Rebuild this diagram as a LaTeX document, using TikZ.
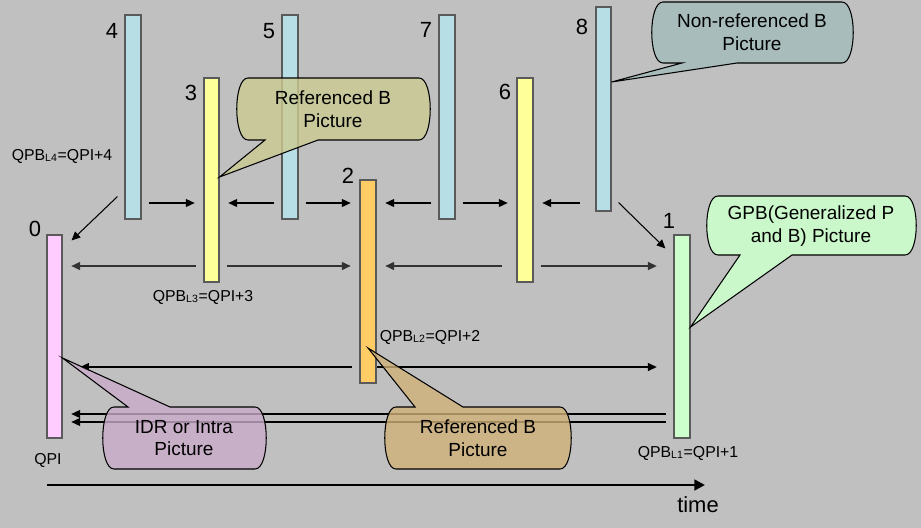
\documentclass[tikz,border=0pt]{standalone}
\usepackage{fontspec}
\setmainfont{Liberation Sans}
\usepackage{xcolor}
\usetikzlibrary{arrows.meta, positioning, calc, fit}
\definecolor{bggray}{RGB}{192,192,192}
\definecolor{barblue}{RGB}{183,222,228}
\definecolor{baryellow}{RGB}{255,255,153}
\definecolor{barorange}{RGB}{255,204,102}
\definecolor{bargreen}{RGB}{204,255,204}
\definecolor{barpink}{RGB}{255,204,255}
\definecolor{edgegray}{RGB}{90,90,90}
\definecolor{noteolive}{RGB}{203,203,146}
\definecolor{noteteal}{RGB}{162,187,187}
\definecolor{notegreen}{RGB}{204,255,204}
\definecolor{notemauve}{RGB}{202,171,202}
\definecolor{notetan}{RGB}{208,177,121}

\tikzset{
  bar/.style={draw=edgegray, line width=0.6pt, inner sep=0pt},
  num/.style={font=\fontsize{12.5}{14}\selectfont, inner sep=0pt},
  qplabel/.style={font=\fontsize{9}{11}\selectfont, inner sep=0pt},
  notetext/.style={font=\fontsize{10.8}{13}\selectfont, align=center, inner sep=0pt},
  bubble/.style={draw=black, line width=0.6pt, fill opacity=0.8},
  arr/.style={-{Triangle[length=5pt,width=4.5pt]}, line width=0.6pt, shorten <=4pt, shorten >=5pt}
}

\begin{document}
\begin{tikzpicture}[x=0.02cm, y=-0.02cm]
  % Canvas
  \useasboundingbox (0,0) rectangle (921,528);
  \fill[bggray] (0,0) rectangle (921,528);

  % Pictures (bars)
  \node[bar, fill=barpink,   fit={(47,235) (62,438)}]  (b0) {};
  \node[bar, fill=bargreen,  fit={(674,235) (690,438)}] (b1) {};
  \node[bar, fill=barorange, fit={(360,180) (376,383)}] (b2) {};
  \node[bar, fill=baryellow, fit={(204,78) (219,282)}]  (b3) {};
  \node[bar, fill=barblue,   fit={(125,15) (141,219)}]  (b4) {};
  \node[bar, fill=barblue,   fit={(282,15) (298,219)}]  (b5) {};
  \node[bar, fill=baryellow, fit={(517,78) (533,282)}]  (b6) {};
  \node[bar, fill=barblue,   fit={(439,15) (455,219)}]  (b7) {};
  \node[bar, fill=barblue,   fit={(596,7) (611,211)}]   (b8) {};

  % Picture numbers
  \node[num] (n0) at (35,229) {0};
  \node[num] (n1) at (669,221) {1};
  \node[num] (n2) at (348,176) {2};
  \node[num] (n3) at (191,93) {3};
  \node[num] (n4) at (112,31) {4};
  \node[num] (n5) at (269,31) {5};
  \node[num] (n6) at (505,92) {6};
  \node[num] (n7) at (426,30) {7};
  \node[num] (n8) at (582,27) {8};

  % Reference rows
  \coordinate (r1) at (0,203);
  \coordinate (r2) at (0,266);
  \coordinate (r3) at (0,367);
  \coordinate (r4a) at (0,414);
  \coordinate (r4b) at (0,422);

  % Level 4 references
  \draw[arr] (b4.east |- r1) -- (b3.west |- r1);
  \draw[arr] (b5.west |- r1) -- (b3.east |- r1);
  \draw[arr] (b5.east |- r1) -- (b2.west |- r1);
  \draw[arr] (b7.west |- r1) -- (b2.east |- r1);
  \draw[arr] (b7.east |- r1) -- (b6.west |- r1);
  \draw[arr, shorten <=9pt] (b8.west |- r1) -- (b6.east |- r1);
  \draw[arr, shorten <=0pt, shorten >=0pt] ($(b4.south west)+(-7,-23)$) -- ($(b0.north east)+(9,6)$);
  \draw[arr, shorten <=0pt, shorten >=0pt] ($(b8.south east)+(7,-9)$) -- ($(b1.north west)+(-8,14)$);

  % Level 3 references
  \draw[arr, draw=black!80, line width=0.75pt] (b3.west |- r2) -- (b0.east |- r2);
  \draw[arr, draw=black!80, line width=0.75pt] (b3.east |- r2) -- (b2.west |- r2);
  \draw[arr, draw=black!80, line width=0.75pt, shorten <=8.5pt] (b6.west |- r2) -- (b2.east |- r2);
  \draw[arr, draw=black!80, line width=0.75pt, shorten >=9.5pt] (b6.east |- r2) -- (b1.west |- r2);

  % Level 2 references
  \draw[arr, shorten >=10pt] (b2.west |- r3) -- (b0.east |- r3);
  \draw[arr, shorten <=0.5pt, shorten >=9.5pt] (b2.east |- r3) -- (b1.west |- r3);

  % Level 1 references
  \draw[arr] (b1.west |- r4a) -- (b0.east |- r4a);
  \draw[arr] (b1.west |- r4b) -- (b0.east |- r4b);

  % QP labels
  \node[qplabel] (qp4) at (62,156) {QPB\textsubscript{L4}=QPI+4};
  \node[qplabel] (qp3) at (203,297) {QPB\textsubscript{L3}=QPI+3};
  \node[qplabel] (qp2) at (430,337) {QPB\textsubscript{L2}=QPI+2};
  \node[qplabel] (qp1) at (688,453) {QPB\textsubscript{L1}=QPI+1};
  \node[qplabel] (qpi) at (48,460) {QPI};

  % Callouts
  \filldraw[bubble, fill=noteolive] (248,78) -- (419,78) .. controls (434,78) and (434,140) .. (419,140)
    -- (318,140) -- (b3.east |- 0,177) -- (265,140) -- (248,140)
    .. controls (233,140) and (233,78) .. cycle;
  \filldraw[bubble, fill=noteteal] (663,2) -- (842,2) .. controls (857,2) and (857,63) .. (842,63)
    -- (737,63) -- (b8.east |- 0,82) -- (682,63) -- (663,63)
    .. controls (648,63) and (648,2) .. cycle;
  \filldraw[bubble, fill=notegreen, fill opacity=0.9] (718,196) -- (905,196) .. controls (920,196) and (920,255) .. (905,255)
    -- (792,255) -- (b1.east |- 0,327) -- (740,255) -- (718,255)
    .. controls (703,255) and (703,196) .. cycle;
  \filldraw[bubble, fill=notemauve] (114,407) -- (128,407) -- (b0.east |- 0,358) -- (170,407)
    -- (255,407) .. controls (270,407) and (270,469) .. (255,469)
    -- (114,469) .. controls (99,469) and (99,407) .. cycle;
  \filldraw[bubble, fill=notetan] (396,407) -- (415,407) -- (b2.center |- 0,348) -- (463,407)
    -- (560,407) .. controls (575,407) and (575,469) .. (560,469)
    -- (396,469) .. controls (381,469) and (381,407) .. cycle;

  \node[notetext] (refTop) at (333,109) {Referenced B\\Picture};
  \node[notetext] (nonRef) at (752,32) {Non-referenced B\\Picture};
  \node[notetext] (gpb) at (811,226) {GPB(Generalized P\\and B) Picture};
  \node[notetext] (idr) at (184,438) {IDR or Intra\\Picture};
  \node[notetext] (refLow) at (478,438) {Referenced B\\Picture};

  % Time axis
  \coordinate (t0) at (47,485);
  \node[font=\fontsize{12.5}{14}\selectfont, inner sep=0pt] (time) at (698,505) {time};
  \draw[-{Triangle[length=6pt,width=6pt]}, line width=1.7pt] (t0) -- ($(t0 -| time.center)+(7,0)$);
\end{tikzpicture}
\end{document}
